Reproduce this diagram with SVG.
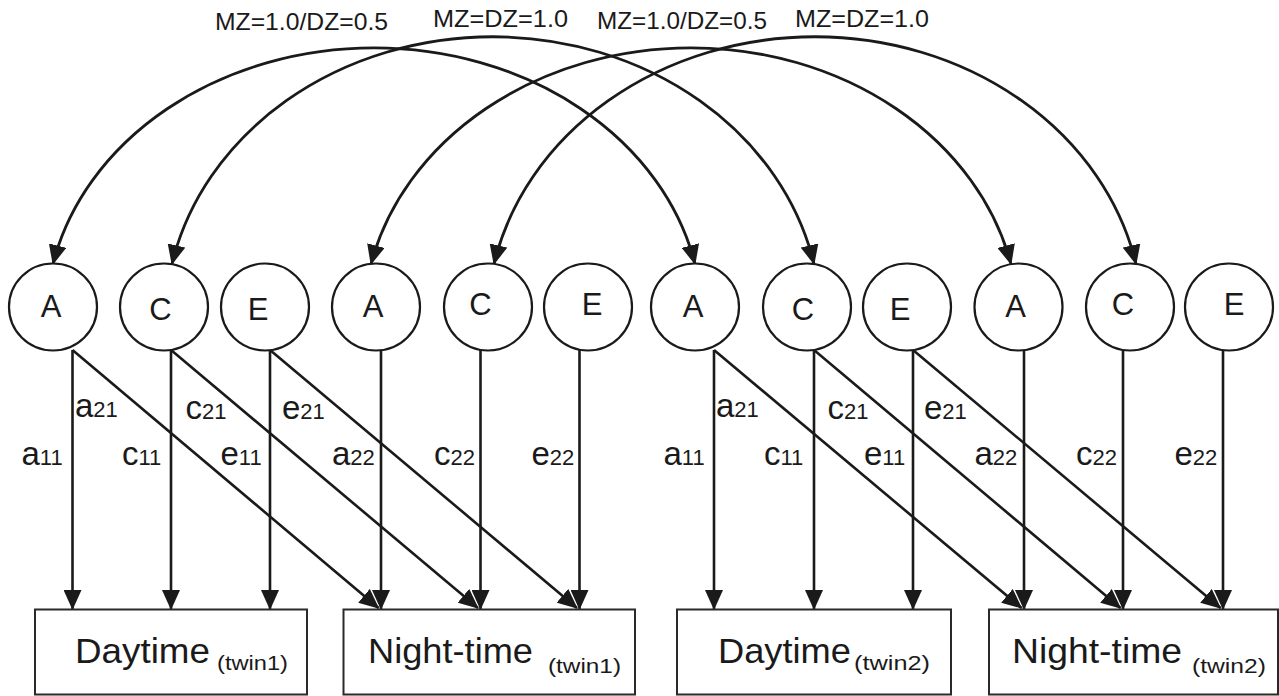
<svg xmlns="http://www.w3.org/2000/svg" width="1279" height="696" viewBox="0 0 1279 696">
<style>
  .n ellipse{fill:#fff;stroke:#1a1a1a;stroke-width:2.2}
  .n text{font-family:"Liberation Sans",Arial,sans-serif;font-size:31px;fill:#1a1a1a;text-anchor:middle}
  .b rect{fill:#fff;stroke:#2a2a2a;stroke-width:2}
  .b text{font-family:"Liberation Sans",Arial,sans-serif;fill:#1a1a1a}
  .main{font-size:35px}
  .tw{font-size:21px}
  .lbl{font-family:"Liberation Sans",Arial,sans-serif;font-size:33px;fill:#1a1a1a}
  .sub{font-size:22px}
  .top{font-family:"Liberation Sans",Arial,sans-serif;font-size:24px;fill:#1a1a1a}
  #connectors path{fill:none;stroke:#1a1a1a;stroke-width:2.8;marker-start:url(#ah);marker-end:url(#ah)}
  #connectors line{stroke:#1a1a1a;stroke-width:2.6;marker-end:url(#ah)}
</style>
<defs>
  <marker id="ah" viewBox="0 0 20 18" refX="19" refY="9" markerWidth="20" markerHeight="18" markerUnits="userSpaceOnUse" orient="auto-start-reverse">
    <path d="M0,0 L20,9 L0,18 Z" fill="#1a1a1a"/>
  </marker>
</defs>
<rect width="1279" height="696" fill="#fff"/>

<g id="connectors">
  <path d="M53,264 A328,272 0 0 1 695,264"/>
  <path d="M172,264 A328,286 0 0 1 814,264"/>
  <path d="M371,264 A328,277 0 0 1 1011,264"/>
  <path d="M494,264 A328,286 0 0 1 1136,264"/>
  <line x1="72.5" y1="350" x2="72.5" y2="609"/>
  <line x1="171" y1="350" x2="171" y2="609"/>
  <line x1="270" y1="350" x2="270" y2="609"/>
  <line x1="381" y1="350" x2="381" y2="609"/>
  <line x1="480.5" y1="350" x2="480.5" y2="609"/>
  <line x1="579.5" y1="350" x2="579.5" y2="609"/>
  <line x1="72.5" y1="350" x2="378.5" y2="608"/>
  <line x1="171" y1="350" x2="478" y2="608"/>
  <line x1="270" y1="350" x2="577" y2="608"/>
  <line x1="714" y1="350" x2="714" y2="609"/>
  <line x1="814" y1="350" x2="814" y2="609"/>
  <line x1="913" y1="350" x2="913" y2="609"/>
  <line x1="1024" y1="350" x2="1024" y2="609"/>
  <line x1="1123" y1="350" x2="1123" y2="609"/>
  <line x1="1223" y1="350" x2="1223" y2="609"/>
  <line x1="714" y1="350" x2="1021.5" y2="608"/>
  <line x1="814" y1="350" x2="1120.5" y2="608"/>
  <line x1="913" y1="350" x2="1220.5" y2="608"/>
</g>

<g id="arc-labels">
  <text class="top" x="215" y="29.5" textLength="173" lengthAdjust="spacingAndGlyphs">MZ=1.0/DZ=0.5</text>
  <text class="top" x="433" y="27" textLength="135" lengthAdjust="spacingAndGlyphs">MZ=DZ=1.0</text>
  <text class="top" x="597" y="29" textLength="170" lengthAdjust="spacingAndGlyphs">MZ=1.0/DZ=0.5</text>
  <text class="top" x="795" y="27" textLength="134" lengthAdjust="spacingAndGlyphs">MZ=DZ=1.0</text>
</g>

<g id="path-labels" class="lbl">
  <text x="75" y="417">a<tspan class="sub">21</tspan></text>
  <text x="185.5" y="419">c<tspan class="sub">21</tspan></text>
  <text x="282" y="419">e<tspan class="sub">21</tspan></text>
  <text x="21.5" y="465">a<tspan class="sub">11</tspan></text>
  <text x="122" y="465">c<tspan class="sub">11</tspan></text>
  <text x="220.5" y="465">e<tspan class="sub">11</tspan></text>
  <text x="332" y="465">a<tspan class="sub">22</tspan></text>
  <text x="434" y="465">c<tspan class="sub">22</tspan></text>
  <text x="531.5" y="465">e<tspan class="sub">22</tspan></text>
  <text x="716" y="417">a<tspan class="sub">21</tspan></text>
  <text x="827.5" y="419">c<tspan class="sub">21</tspan></text>
  <text x="924" y="419">e<tspan class="sub">21</tspan></text>
  <text x="663.5" y="465">a<tspan class="sub">11</tspan></text>
  <text x="764" y="465">c<tspan class="sub">11</tspan></text>
  <text x="864" y="465">e<tspan class="sub">11</tspan></text>
  <text x="974.5" y="465">a<tspan class="sub">22</tspan></text>
  <text x="1076" y="465">c<tspan class="sub">22</tspan></text>
  <text x="1174.5" y="465">e<tspan class="sub">22</tspan></text>
</g>

<g id="A1" class="n"><ellipse cx="53" cy="307" rx="44" ry="43.5"/><text x="51" y="317">A</text></g>
<g id="C1" class="n"><ellipse cx="164" cy="307" rx="44" ry="43.5"/><text x="160.5" y="320">C</text></g>
<g id="E1" class="n"><ellipse cx="265" cy="307" rx="44" ry="43.5"/><text x="258" y="320">E</text></g>
<g id="A2" class="n"><ellipse cx="376" cy="307" rx="44" ry="43.5"/><text x="373" y="317">A</text></g>
<g id="C2" class="n"><ellipse cx="488" cy="307" rx="44" ry="43.5"/><text x="480.5" y="315">C</text></g>
<g id="E2" class="n"><ellipse cx="588" cy="307" rx="44" ry="43.5"/><text x="592" y="315">E</text></g>
<g id="A1b" class="n"><ellipse cx="695" cy="307" rx="44" ry="43.5"/><text x="693" y="317">A</text></g>
<g id="C1b" class="n"><ellipse cx="807" cy="307" rx="44" ry="43.5"/><text x="803" y="320">C</text></g>
<g id="E1b" class="n"><ellipse cx="907" cy="307" rx="44" ry="43.5"/><text x="900" y="320">E</text></g>
<g id="A2b" class="n"><ellipse cx="1018.5" cy="307" rx="44" ry="43.5"/><text x="1015.5" y="317">A</text></g>
<g id="C2b" class="n"><ellipse cx="1130" cy="307" rx="44" ry="43.5"/><text x="1123" y="315">C</text></g>
<g id="E2b" class="n"><ellipse cx="1229" cy="307" rx="44" ry="43.5"/><text x="1234" y="315">E</text></g>

<g id="Day1" class="b"><rect x="35" y="609.5" width="272" height="85"/><text class="main" x="75" y="663" textLength="135" lengthAdjust="spacingAndGlyphs">Daytime</text><text class="tw" x="217" y="670" textLength="71" lengthAdjust="spacingAndGlyphs">(twin1)</text></g>
<g id="Night1" class="b"><rect x="343.5" y="609.5" width="291.5" height="85"/><text class="main" x="368" y="663" textLength="165" lengthAdjust="spacingAndGlyphs">Night-time</text><text class="tw" x="548" y="673" textLength="73" lengthAdjust="spacingAndGlyphs">(twin1)</text></g>
<g id="Day2" class="b"><rect x="677" y="609.5" width="274" height="85"/><text class="main" x="718" y="663" textLength="133" lengthAdjust="spacingAndGlyphs">Daytime</text><text class="tw" x="854" y="670" textLength="76" lengthAdjust="spacingAndGlyphs">(twin2)</text></g>
<g id="Night2" class="b"><rect x="989" y="609.5" width="289" height="85"/><text class="main" x="1012" y="663" textLength="170" lengthAdjust="spacingAndGlyphs">Night-time</text><text class="tw" x="1192" y="673" textLength="74" lengthAdjust="spacingAndGlyphs">(twin2)</text></g>
</svg>
